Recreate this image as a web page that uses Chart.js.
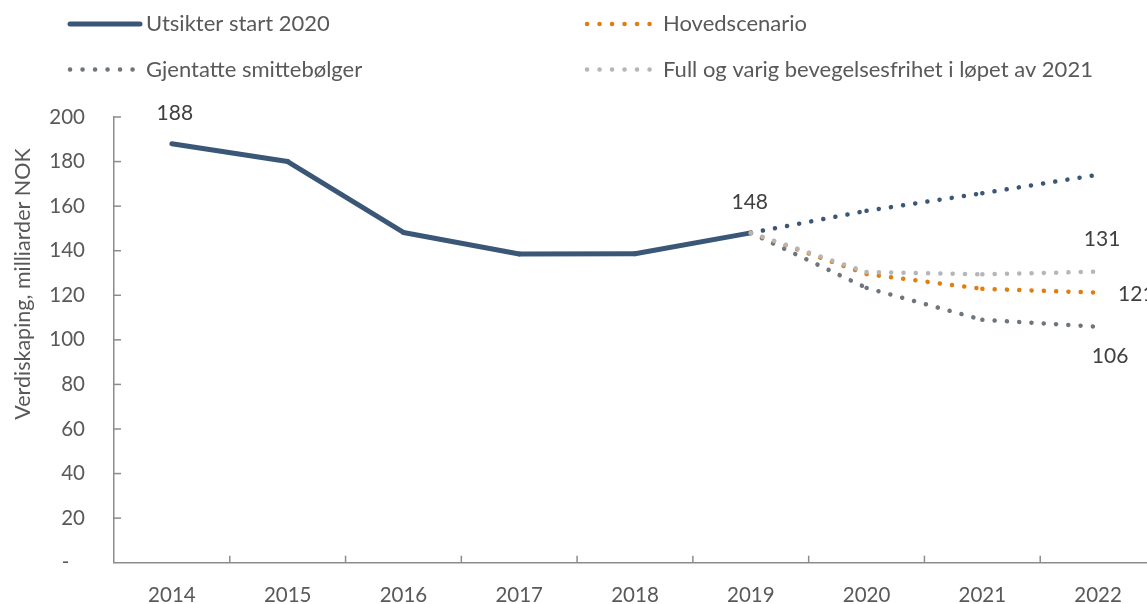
<!DOCTYPE html>
<html>
<head>
<meta charset="utf-8">
<script src="https://cdn.jsdelivr.net/npm/chart.js@4.4.1/dist/chart.umd.min.js"></script>
<style>
  html, body { margin: 0; padding: 0; background: #fff; overflow: hidden; }
  #wrap { width: 1147px; height: 604px; overflow: hidden; }
  #box { width: 1160px; height: 604px; position: relative; }
</style>
</head>
<body>
<div id="wrap"><div id="box"><canvas id="chart"></canvas></div></div>
<script>
// === data ===
const years = ['2014', '2015', '2016', '2017', '2018', '2019', '2020', '2021', '2022'];
const utsikter = [188, 180, 148.2, 138.5, 138.6, 148, 157.9, 165.8, 174.1];
const hovedscenario = [null, null, null, null, null, 148, 129.5, 122.9, 121.2];
const gjentatte = [null, null, null, null, null, 148, 123.3, 109.0, 105.9];
const fullFrihet = [null, null, null, null, null, 148, 130.4, 129.4, 130.6];
const yTickValues = [0, 20, 40, 60, 80, 100, 120, 140, 160, 180, 200];

const names = ['Utsikter start 2020', 'Hovedscenario', 'Gjentatte smittebølger', 'Full og varig bevegelsesfrihet i løpet av 2021'];
const yTitle = 'Verdiskaping, milliarder NOK';

// farger
const BLUE = '#3B5777';
const ORANGE = '#E07E14';
const DGRAY = '#6E757C';
const LGRAY = '#B3B7BC';
const TEXT = '#595959';
const LABEL = '#404040';
const AXIS = '#8C8C8C';
const DOTS = [0.1, 12.2];
const FONT = 'Lato, "Open Sans", sans-serif';

Chart.defaults.font.family = FONT;
Chart.defaults.font.size = 20.5;
Chart.defaults.color = TEXT;

// dash-mønsteret starter på nytt ved hvert datapunkt (som i Excel)
const restart = c => c.p0DataIndex * 0.001;

function dotted(label, data, color, order) {
    return {
        label, data, order,
        borderColor: color,
        borderWidth: 4.5,
        borderDash: DOTS,
        borderCapStyle: 'round',
        pointRadius: 0,
        tension: 0,
        segment: { borderDashOffset: restart }
    };
}

// etiketter: [dataset, index, dx, dy, align]
const valueLabels = [
    [0, 0, 3, -31, 'center'],
    [0, 5, -1, -31, 'center'],
    [3, 8, 4, -32, 'center'],
    [1, 8, 20, 2, 'left'],
    [2, 8, 12, 30, 'center']
];

function line(ctx, x1, y1, x2, y2) {
    ctx.beginPath(); ctx.moveTo(x1, y1); ctx.lineTo(x2, y2); ctx.stroke();
}

const decor = {
    id: 'decor',
    afterDraw(chart) {
        const { ctx, chartArea, scales: { x, y } } = chart;
        ctx.save();

        // tick marks innenfor aksene
        ctx.strokeStyle = AXIS;
        ctx.lineWidth = 1.5;
        for (let i = 1; i < years.length; i++) {
            const px = (x.getPixelForValue(i - 1) + x.getPixelForValue(i)) / 2;
            line(ctx, px, chartArea.bottom, px, chartArea.bottom - 7);
        }
        yTickValues.forEach(v => {
            if (v === 0) return;
            const py = y.getPixelForValue(v);
            line(ctx, chartArea.left, py, chartArea.left + 7, py);
        });

        // y-akse tittel
        ctx.fillStyle = TEXT;
        ctx.font = '21.5px ' + FONT;
        ctx.textAlign = 'center';
        ctx.textBaseline = 'middle';
        ctx.save();
        ctx.translate(23, 284);
        ctx.rotate(-Math.PI / 2);
        ctx.fillText(yTitle, 0, 0);
        ctx.restore();

        // legende
        ctx.font = '22px ' + FONT;
        const legend = [
            { x: 70, y: 24, color: BLUE, solid: true, text: names[0] },
            { x: 587, y: 24, color: ORANGE, text: names[1] },
            { x: 70, y: 69.5, color: DGRAY, text: names[2] },
            { x: 587, y: 69.5, color: LGRAY, text: names[3] }
        ];
        legend.forEach(it => {
            ctx.strokeStyle = it.color;
            ctx.lineCap = 'round';
            if (it.solid) {
                ctx.lineWidth = 5;
                ctx.setLineDash([]);
                line(ctx, it.x, it.y, it.x + 70, it.y);
            } else {
                ctx.lineWidth = 4.5;
                ctx.setLineDash([0.1, 12.4]);
                line(ctx, it.x, it.y, it.x + 63, it.y);
            }
            ctx.setLineDash([]);
            ctx.fillStyle = TEXT;
            ctx.textAlign = 'left';
            ctx.fillText(it.text, it.x + 76, it.y);
        });

        // verdietiketter
        ctx.font = '21px ' + FONT;
        ctx.fillStyle = LABEL;
        valueLabels.forEach(([di, idx, dx, dy, align]) => {
            const pt = chart.getDatasetMeta(di).data[idx];
            const v = chart.data.datasets[di].data[idx];
            ctx.textAlign = align;
            ctx.fillText(String(Math.round(v)), pt.x + dx, pt.y + dy);
        });

        ctx.restore();
    }
};

new Chart(document.getElementById('chart'), {
    type: 'line',
    data: {
        labels: years,
        datasets: [
            {
                label: names[0],
                data: utsikter,
                order: 4,
                borderColor: BLUE,
                borderWidth: 5,
                borderCapStyle: 'round',
                borderJoinStyle: 'round',
                pointRadius: 0,
                tension: 0,
                segment: {
                    borderDash: c => c.p0DataIndex >= 5 ? DOTS : undefined,
                    borderWidth: c => c.p0DataIndex >= 5 ? 4.5 : undefined,
                    borderDashOffset: restart
                }
            },
            dotted(names[1], hovedscenario, ORANGE, 2),
            dotted(names[2], gjentatte, DGRAY, 3),
            dotted(names[3], fullFrihet, LGRAY, 1)
        ]
    },
    options: {
        responsive: true,
        maintainAspectRatio: false,
        animation: false,
        layout: { padding: { top: 117, right: 4, left: 0, bottom: 0 } },
        plugins: {
            legend: { display: false },
            tooltip: { enabled: false }
        },
        scales: {
            x: {
                offset: true,
                grid: { display: false, drawTicks: false },
                border: { display: true, color: AXIS, width: 1.5 },
                ticks: { padding: 20, color: TEXT, maxRotation: 0 },
                afterFit: s => { s.height = 40; }
            },
            y: {
                min: 0,
                max: 200,
                afterBuildTicks: s => { s.ticks = yTickValues.map(v => ({ value: v })); },
                grid: { display: false, drawTicks: false },
                border: { display: true, color: AXIS, width: 1.5 },
                ticks: {
                    padding: 29,
                    color: TEXT,
                    callback: v => v === 0 ? '-   ' : String(v)
                },
                afterFit: s => { s.width = 114; }
            }
        }
    },
    plugins: [decor]
});
</script>
</body>
</html>
